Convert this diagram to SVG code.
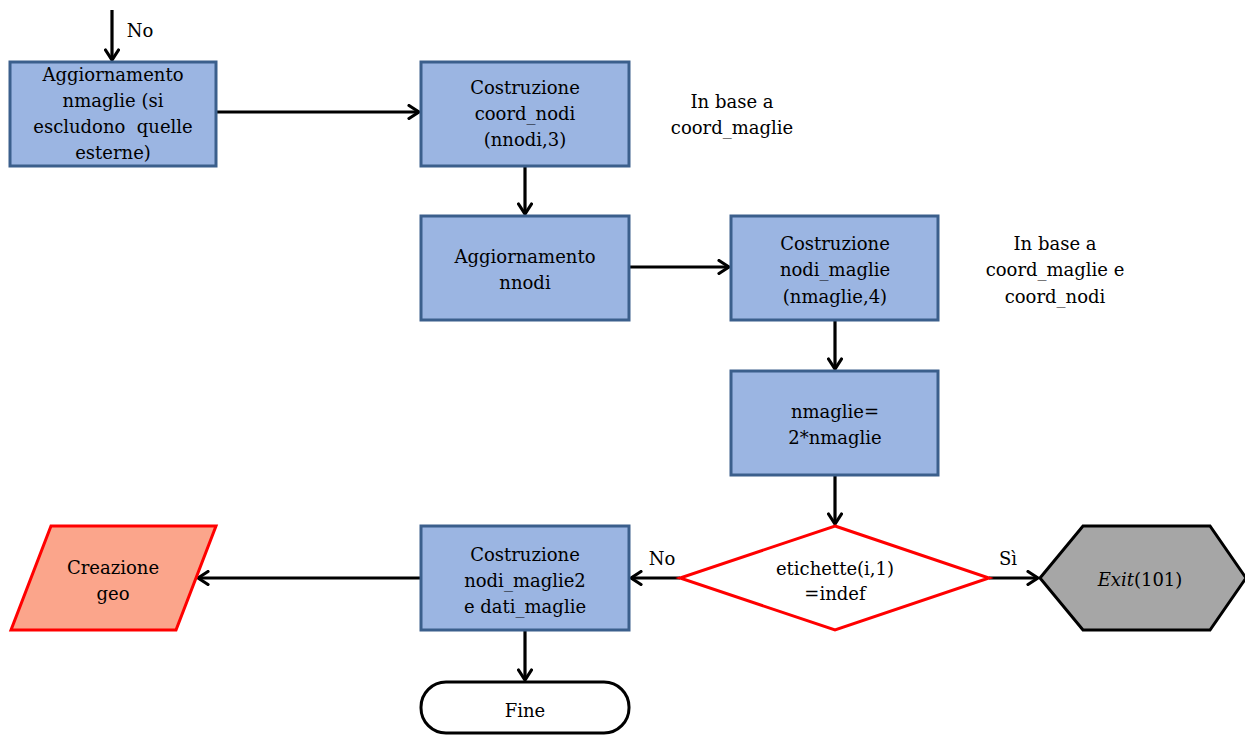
<svg xmlns="http://www.w3.org/2000/svg" width="1245" height="735" viewBox="0 0 1245 735">
  <style>
    text { font-family: "DejaVu Serif", "Liberation Serif", serif; font-size: 18px; fill: #000; text-anchor: middle; }
    .proc { fill: #9bb5e2; stroke: #3b5f8c; stroke-width: 3; }
    .dec { fill: #ffffff; stroke: #ff0000; stroke-width: 3; }
    .io { fill: #fba58b; stroke: #ff0000; stroke-width: 3; }
    .exit { fill: #a6a6a6; stroke: #000; stroke-width: 3; }
    .term { fill: #ffffff; stroke: #000; stroke-width: 3; }
    .conn { fill: none; stroke: #000; stroke-width: 3.2; marker-end: url(#arrow); }
  </style>
  <defs>
    <marker id="arrow" viewBox="0 0 16 16" refX="14" refY="8" markerWidth="16" markerHeight="16" markerUnits="userSpaceOnUse" orient="auto">
      <path d="M4,1.5 L14,8 L4,14.5" fill="none" stroke="#000" stroke-width="3.2" stroke-linecap="round" stroke-linejoin="miter"/>
    </marker>
  </defs>
  <rect width="1245" height="735" fill="#ffffff"/>

  <!-- connectors -->
  <g id="connectors">
    <path class="conn" d="M112,10 L112,60"/>
    <path class="conn" d="M216,112 L419,112"/>
    <path class="conn" d="M525,166 L525,214"/>
    <path class="conn" d="M629,267 L729,267"/>
    <path class="conn" d="M835,320 L835,369"/>
    <path class="conn" d="M835,475 L835,524"/>
    <path class="conn" d="M680,578 L631,578"/>
    <path class="conn" d="M989,578 L1038,578"/>
    <path class="conn" d="M421,578 L198,578"/>
    <path class="conn" d="M525,630 L525,680"/>
    <text x="140" y="37">No</text>
    <text x="662" y="565">No</text>
    <text x="1008" y="565">Sì</text>
  </g>

  <g id="n-aggiorna-maglie">
    <rect class="proc" x="10" y="62" width="206" height="104"/>
    <text x="113" y="81">Aggiornamento</text>
    <text x="113" y="107">nmaglie (si</text>
    <text x="113" y="133">escludono&#160;&#160;quelle</text>
    <text x="113" y="159">esterne)</text>
  </g>

  <g id="n-coord-nodi">
    <rect class="proc" x="421" y="62" width="208" height="104"/>
    <text x="525" y="94">Costruzione</text>
    <text x="525" y="120">coord_nodi</text>
    <text x="525" y="146">(nnodi,3)</text>
  </g>

  <g id="note-1">
    <text x="732" y="108">In base a</text>
    <text x="732" y="134">coord_maglie</text>
  </g>

  <g id="n-aggiorna-nodi">
    <rect class="proc" x="421" y="216" width="208" height="104"/>
    <text x="525" y="263">Aggiornamento</text>
    <text x="525" y="289">nnodi</text>
  </g>

  <g id="n-nodi-maglie">
    <rect class="proc" x="731" y="216" width="207" height="104"/>
    <text x="835" y="250">Costruzione</text>
    <text x="835" y="276">nodi_maglie</text>
    <text x="835" y="303">(nmaglie,4)</text>
  </g>

  <g id="note-2">
    <text x="1055" y="250">In base a</text>
    <text x="1055" y="276">coord_maglie e</text>
    <text x="1055" y="303">coord_nodi</text>
  </g>

  <g id="n-raddoppio">
    <rect class="proc" x="731" y="371" width="207" height="104"/>
    <text x="835" y="418">nmaglie=</text>
    <text x="835" y="444">2*nmaglie</text>
  </g>

  <g id="n-test">
    <polygon class="dec" points="835,526 989,578 835,630 680,578"/>
    <text x="835" y="575">etichette(i,1)</text>
    <text x="835" y="600">=indef</text>
  </g>

  <g id="n-exit">
    <polygon class="exit" points="1040,578 1083,526 1210,526 1246,578 1210,630 1083,630"/>
    <text x="1140" y="586"><tspan font-style="italic">Exit</tspan>(101)</text>
  </g>

  <g id="n-nodi-maglie2">
    <rect class="proc" x="421" y="526" width="208" height="104"/>
    <text x="525" y="561">Costruzione</text>
    <text x="525" y="587">nodi_maglie2</text>
    <text x="525" y="613">e dati_maglie</text>
  </g>

  <g id="n-geo">
    <polygon class="io" points="51,526 216,526 176,630 11,630"/>
    <text x="113" y="574">Creazione</text>
    <text x="113" y="600">geo</text>
  </g>

  <g id="n-fine">
    <rect class="term" x="421" y="682" width="208" height="51" rx="25" ry="25"/>
    <text x="525" y="717">Fine</text>
  </g>
</svg>
